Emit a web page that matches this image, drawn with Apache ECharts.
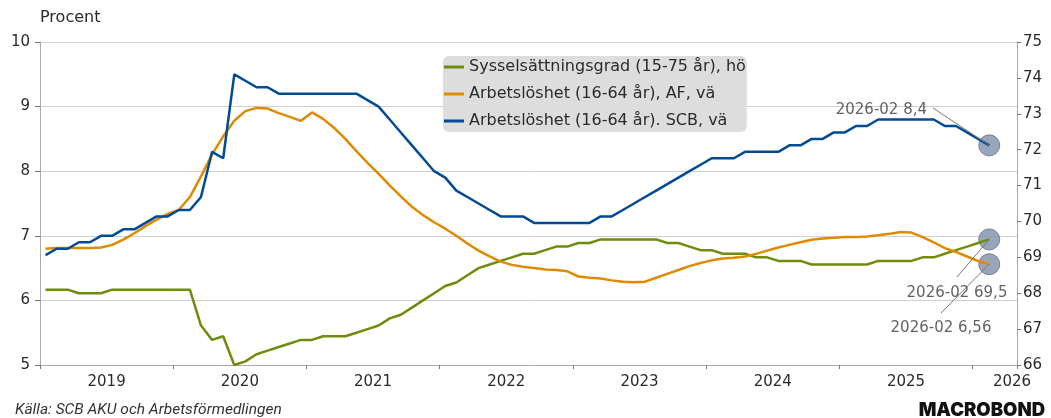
<!DOCTYPE html>
<html>
<head>
<meta charset="utf-8">
<script src="https://cdn.jsdelivr.net/npm/echarts@6/dist/echarts.min.js"></script>
<style>
html, body { margin: 0; padding: 0; background: #fff; }
#chart { width: 1051px; height: 418px; }
</style>
</head>
<body>
<div id="chart"></div>
<script>
// månadsdata 2019-01 .. 2026-02
var yearLabels = ['2019', '2020', '2021', '2022', '2023', '2024', '2025', '2026'];
var lastMonth = '2026-02';

// Arbetslöshet SCB, vänster axel
var scb = [6.7, 6.8, 6.8, 6.9, 6.9, 7.0, 7.0, 7.1, 7.1, 7.2, 7.3, 7.3, 7.4,
    7.4, 7.6, 8.3, 8.2, 9.5,
    9.4, 9.3, 9.3, 9.2, 9.2, 9.2,
    9.2, 9.2, 9.2, 9.2, 9.2,
    9.1, 9.0, 8.8, 8.6, 8.4, 8.2, 8.0,
    7.9, 7.7, 7.6, 7.5, 7.4, 7.3, 7.3, 7.3,
    7.2, 7.2, 7.2, 7.2, 7.2, 7.2,
    7.3, 7.3, 7.4,
    7.5, 7.6, 7.7, 7.8, 7.9, 8.0, 8.1, 8.2,
    8.2, 8.2, 8.3, 8.3, 8.3, 8.3, 8.4, 8.4, 8.5, 8.5,
    8.6, 8.6, 8.7, 8.7, 8.8, 8.8, 8.8, 8.8, 8.8, 8.8,
    8.7, 8.7, 8.6, 8.5, 8.4];

// Arbetslöshet AF, vänster axel
var af = [6.80, 6.81, 6.81, 6.81, 6.81, 6.82, 6.86, 6.94, 7.04, 7.15, 7.25, 7.34, 7.40, 7.60, 7.92, 8.26, 8.54, 8.78,
    8.93, 8.98, 8.97, 8.90, 8.84, 8.78, 8.91, 8.81,
    8.67, 8.50, 8.31, 8.13, 7.96, 7.78, 7.61, 7.45, 7.32, 7.21,
    7.11, 7.00, 6.88, 6.77, 6.68, 6.60, 6.55, 6.52, 6.50, 6.48, 6.47, 6.45, 6.37, 6.35, 6.34, 6.31, 6.29, 6.28,
    6.29, 6.35, 6.41, 6.47, 6.53, 6.58, 6.62, 6.65, 6.66, 6.68, 6.72, 6.77, 6.82, 6.86, 6.90, 6.94, 6.96,
    6.97, 6.98, 6.98, 6.99, 7.01, 7.03, 7.06, 7.05, 6.98, 6.90, 6.81, 6.75, 6.68, 6.61, 6.56];

// Sysselsättningsgrad, höger axel
var syss = [68.1, 68.1, 68.1, 68.0, 68.0, 68.0, 68.1, 68.1, 68.1, 68.1, 68.1, 68.1, 68.1, 68.1, 67.1, 66.7, 66.8,
    66.0, 66.1, 66.3, 66.4, 66.5, 66.6, 66.7, 66.7, 66.8, 66.8, 66.8, 66.9, 67.0, 67.1, 67.3, 67.4, 67.6, 67.8, 68.0,
    68.2, 68.3, 68.5, 68.7, 68.8, 68.9, 69.0, 69.1, 69.1, 69.2, 69.3, 69.3, 69.4, 69.4, 69.5, 69.5, 69.5,
    69.5, 69.5, 69.5,
    69.4, 69.4, 69.3, 69.2, 69.2, 69.1, 69.1, 69.1, 69.0, 69.0, 68.9, 68.9, 68.9, 68.8, 68.8,
    68.8, 68.8, 68.8, 68.8, 68.9, 68.9, 68.9, 68.9, 69.0, 69.0, 69.1, 69.2, 69.3, 69.4, 69.5];

var names = ['Sysselsättningsgrad (15-75 år), hö', 'Arbetslöshet (16-64 år), AF, vä', 'Arbetslöshet (16-64 år). SCB, vä'];
var colors = ['#6f8c0c', '#df8a00', '#004a96'];

function toPoints(arr) {
    var out = [];
    for (var i = 0; i < arr.length; i++) {
        out.push([i + 0.5, arr[i]]);   // mitten av månaden
    }
    return out;
}

function lastPoint(arr) {
    return [arr.length - 0.5, arr[arr.length - 1]];
}

function labelText(arr) {
    return lastMonth + ' ' + String(arr[arr.length - 1]).replace('.', ',');
}

var font = 'DejaVu Sans';
var textColor = '#2a2a2a';
var tickColor = '#777';

// linje från sista punkten ut till etiketten
function leader(arr, px, py) {
    return {
        symbol: ['none', 'none'],
        silent: true,
        animation: false,
        label: { show: false },
        lineStyle: { color: '#777', width: 1, type: 'solid' },
        emphasis: { disabled: true },
        data: [[{ coord: lastPoint(arr) }, { x: px, y: py }]]
    };
}

function annotation(arr, yIndex, layout) {
    return {
        type: 'scatter',
        yAxisIndex: yIndex,
        symbolSize: 1,
        silent: true,
        z: 10,
        itemStyle: { color: 'rgba(0,0,0,0)' },
        data: [lastPoint(arr)],
        label: {
            show: true,
            formatter: labelText(arr),
            fontFamily: font,
            fontSize: 15,
            color: '#3a3a3a'
        },
        labelLayout: layout
    };
}

var chart = echarts.init(document.getElementById('chart'));

var option = {
    animation: false,
    grid: { left: 40, right: 34, top: 42, bottom: 53 },
    legend: {
        data: names,
        orient: 'vertical',
        left: 443,
        top: 56,
        backgroundColor: '#dddddd',
        borderRadius: 6,
        padding: [2, 1, 2, 1],
        itemGap: 9,
        itemWidth: 20,
        itemHeight: 3,
        icon: 'rect',
        textStyle: { fontFamily: font, fontSize: 16, color: '#2b2b2b', lineHeight: 18 }
    },
    xAxis: [
        {
            type: 'value',
            min: 0,
            max: 88,
            interval: 12,
            axisLine: { onZero: false, lineStyle: { color: '#aaa' } },
            axisTick: { length: 4, lineStyle: { color: tickColor } },
            axisLabel: { show: false },
            splitLine: { show: false }
        },
        {
            type: 'value',
            position: 'bottom',
            min: 0,
            max: 88,
            interval: 6,
            axisLine: { show: false, onZero: false },
            axisTick: { show: false },
            splitLine: { show: false },
            axisLabel: {
                margin: 10,
                fontFamily: font,
                fontSize: 15,
                color: textColor,
                showMinLabel: true,
                showMaxLabel: true,
                formatter: function (v) {
                    if (v == 88) return '{r|' + yearLabels[yearLabels.length - 1] + '}';
                    if (v % 12 == 6) return yearLabels[(v - 6) / 12];
                    return '';
                },
                rich: {
                    r: { fontFamily: font, fontSize: 15, color: textColor, padding: [0, 10, 0, 0] }
                }
            }
        }
    ],
    yAxis: [
        {
            type: 'value',
            position: 'left',
            min: 5,
            max: 10,
            interval: 1,
            name: 'Procent',
            nameLocation: 'end',
            nameGap: 16,
            nameTextStyle: { fontFamily: font, fontSize: 16, color: textColor, align: 'left' },
            axisLine: { show: true, onZero: false, lineStyle: { color: '#aaa' } },
            axisTick: { show: true, length: 5, lineStyle: { color: tickColor } },
            axisLabel: { margin: 10, fontFamily: font, fontSize: 15, color: textColor },
            splitLine: { lineStyle: { color: '#cfcfcf', width: 1 } }
        },
        {
            type: 'value',
            position: 'right',
            min: 66,
            max: 75,
            interval: 1,
            axisLine: { show: true, onZero: false, lineStyle: { color: '#aaa' } },
            axisTick: { show: true, length: 4, lineStyle: { color: tickColor } },
            axisLabel: { margin: 6, fontFamily: font, fontSize: 15, color: textColor },
            splitLine: { show: false }
        }
    ],
    series: [
        {
            name: names[0],
            type: 'line',
            yAxisIndex: 1,
            data: toPoints(syss),
            showSymbol: false,
            color: colors[0],
            lineStyle: { width: 2.5 },
            markLine: leader(syss, 957, 277)
        },
        {
            name: names[1],
            type: 'line',
            data: toPoints(af),
            showSymbol: false,
            color: colors[1],
            lineStyle: { width: 2.5 },
            markLine: leader(af, 941, 313)
        },
        {
            name: names[2],
            type: 'line',
            data: toPoints(scb),
            showSymbol: false,
            color: colors[2],
            lineStyle: { width: 2.5 },
            markLine: leader(scb, 933, 108)
        },
        {
            type: 'scatter',
            symbolSize: 21,
            silent: true,
            itemStyle: { color: '#7f8ea9', opacity: 0.8, borderColor: '#5f6b82', borderWidth: 1 },
            data: [lastPoint(scb), lastPoint(af)]
        },
        {
            type: 'scatter',
            yAxisIndex: 1,
            symbolSize: 21,
            silent: true,
            itemStyle: { color: '#7f8ea9', opacity: 0.8, borderColor: '#5f6b82', borderWidth: 1 },
            data: [lastPoint(syss)]
        },
        annotation(scb, 0, { x: 927, y: 110, align: 'right', verticalAlign: 'middle' }),
        annotation(syss, 1, { x: 957, y: 293, align: 'center', verticalAlign: 'middle' }),
        annotation(af, 0, { x: 941, y: 328, align: 'center', verticalAlign: 'middle' })
    ],
    graphic: [
        {
            type: 'text',
            left: 15,
            top: 402,
            style: {
                text: 'Källa: SCB AKU och Arbetsförmedlingen',
                fontFamily: 'Roboto',
                fontStyle: 'italic',
                fontSize: 15.5,
                fill: '#333'
            }
        },
        {
            type: 'text',
            right: 6,
            top: 401,
            style: {
                text: 'MACROBOND',
                fontFamily: 'Inter',
                fontWeight: 900,
                fontSize: 18.5,
                fill: '#111'
            }
        }
    ]
};

chart.setOption(option);
</script>
</body>
</html>
